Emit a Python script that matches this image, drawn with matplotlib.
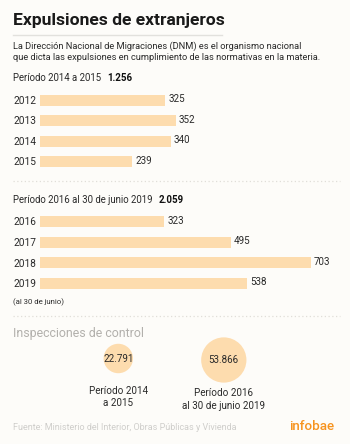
import matplotlib
matplotlib.use("Agg")
import matplotlib.pyplot as plt
from matplotlib.patches import Circle
import numpy as np

plt.rcParams['font.family'] = ['Roboto', 'DejaVu Sans']

# ---- data ----
title = "Expulsiones de extranjeros"
subtitle = ["La Dirección Nacional de Migraciones (DNM) es el organismo nacional",
            "que dicta las expulsiones en cumplimiento de las normativas en la materia."]
years1 = ["2012", "2013", "2014", "2015"]
values1 = [325, 352, 340, 239]
period1_label = "Período 2014 a 2015"
period1_total = "1.256"
years2 = ["2016", "2017", "2018", "2019"]
values2 = [323, 495, 703, 538]
period2_label = "Período 2016 al 30 de junio 2019"
period2_total = "2.059"
note2 = "(al 30 de junio)"
insp_title = "Inspecciones de control"
insp_labels = ["Período 2014\na 2015", "Período 2016\nal 30 de junio 2019"]
insp_values = [22791, 53866]
insp_texts = ["22.791", "53.866"]
source = "Fuente: Ministerio del Interior, Obras Públicas y Vivienda"

BG = "#fdfcf9"
BAR = "#fddcae"
TXT = "#2a2a2a"

W, H = 350, 444
fig = plt.figure(figsize=(W / 100, H / 100), dpi=100, facecolor=BG)

ax0 = fig.add_axes([0, 0, 1, 1])
ax0.set_xlim(0, W)
ax0.set_ylim(H, 0)
ax0.axis("off")
ax0.set_facecolor(BG)

# title
ax0.text(13, 20, title, fontsize=12.6, fontweight="bold", color="#1a1a1a", va="center", ha="left")
ax0.plot([13, 222], [34.7, 34.7], color="#e2e1dd", lw=1)
ax0.text(13, 46, subtitle[0], fontsize=6.65, color=TXT, va="center")
ax0.text(13, 58, subtitle[1], fontsize=6.65, color=TXT, va="center")

# period headers
ax0.text(13, 78, period1_label, fontsize=6.9, color=TXT, va="center")
ax0.text(107, 78, period1_total, fontsize=7.0, color="#111", fontweight="bold", va="center")
ax0.text(13, 200, period2_label, fontsize=6.9, color=TXT, va="center")
ax0.text(159, 200, period2_total, fontsize=7.0, color="#111", fontweight="bold", va="center")
ax0.text(13, 302, note2, fontsize=5.6, color=TXT, va="center")

# dotted separators
for yy in (181.5, 316):
    ax0.plot([13, 340], [yy, yy], color="#e0ded9", lw=0.9, linestyle=(0, (1, 2)))

# bars
scale = 0.385  # px per unit
x_left = 40
x_width = 300


def bar_group(years, values, y_top, spacing):
    h = spacing * len(years)
    ax = fig.add_axes([x_left / W, 1 - (y_top + h) / H, x_width / W, h / H])
    ax.set_xlim(0, x_width / scale)
    ax.set_ylim(len(years) - 0.5, -0.5)
    ax.axis("off")
    pos = np.arange(len(years))
    ax.barh(pos, values, height=11 / spacing, color=BAR, edgecolor="none")
    for p, yv, v in zip(pos, years, values):
        ax.text(v + 3 / scale, p - 0.05, str(v), fontsize=7.1, color=TXT, va="center", ha="left")
        ax.text((13 - x_left) / scale, p + 0.03, yv, fontsize=7.3, color=TXT, va="center", ha="left")
    return ax


bar_group(years1, values1, 100 - 10.3, 20.6)
bar_group(years2, values2, 221.7 - 10.3, 20.6)

# inspections
ax0.text(13, 333, insp_title, fontsize=8.9, color="#b2b0ac", va="center")
k = 0.0975
centers = [(118.3, 358.5), (223.8, 360)]
label_y = [(391, 403), (393, 405.5)]
for (cx, cy), v, t, lab, (ly1, ly2) in zip(centers, insp_values, insp_texts, insp_labels, label_y):
    r = k * np.sqrt(v)
    ax0.add_patch(Circle((cx, cy), r, facecolor=BAR, edgecolor="none"))
    ax0.text(cx, cy, t, fontsize=7.1, color=TXT, ha="center", va="center")
    l1, l2 = lab.split("\n")
    ax0.text(cx, ly1, l1, fontsize=7.1, color=TXT, ha="center", va="center")
    ax0.text(cx, ly2, l2, fontsize=7.1, color=TXT, ha="center", va="center")

ax0.text(13, 427, source, fontsize=6.5, color="#cfcecb", va="center")
ax0.text(334, 426, "infobae", fontsize=9.6, color="#f7931e", va="center", ha="right", fontweight="medium")

fig.savefig("out.png", dpi=100, facecolor=BG)
